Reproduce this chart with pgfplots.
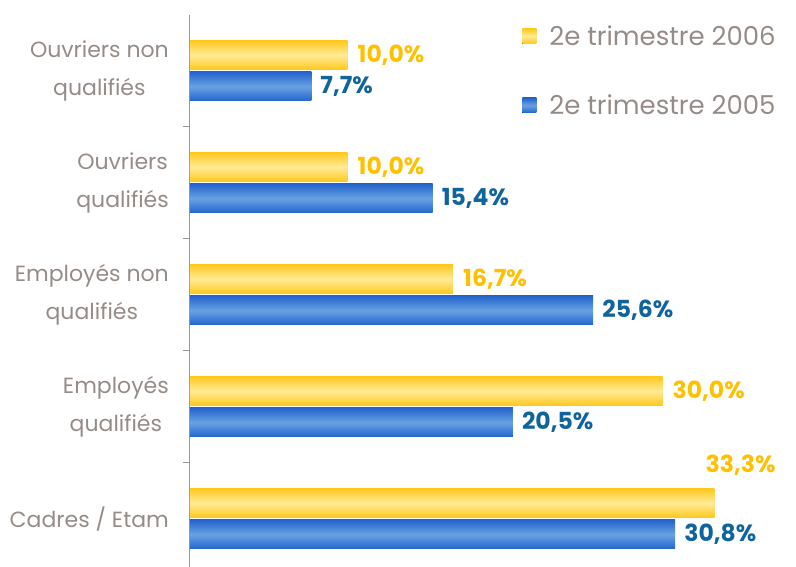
\documentclass[border=0pt]{standalone}
\usepackage{pgfplots}
\pgfplotsset{compat=1.18}
\usepackage{fontspec}
\setmainfont{Poppins}
\definecolor{yedge}{RGB}{255,200,30}
\definecolor{ymid}{RGB}{255,235,150}
\definecolor{bedge}{RGB}{35,100,205}
\definecolor{bmid}{RGB}{105,162,226}
\definecolor{txtgray}{RGB}{150,140,135}
\definecolor{axgray}{RGB}{160,150,145}
\definecolor{ylab}{RGB}{255,192,0}
\definecolor{blab}{RGB}{15,100,155}
\pgfplotsset{
  ybars/.style={draw=none, top color=yedge, bottom color=yedge, middle color=ymid, bar shift=16pt,
    legend image code/.code={\fill[top color=yedge, bottom color=yedge, middle color=ymid] (0pt,-7.5pt) rectangle (14pt,7.5pt);},
    nodes near coords style={anchor=west, inner sep=0pt, xshift=10pt, text=ylab, font=\fontsize{23.5}{23.5}\selectfont\bfseries}},
  bbars/.style={draw=none, top color=bedge, bottom color=bedge, middle color=bmid, bar shift=-15.5pt,
    legend image code/.code={\fill[top color=bedge, bottom color=bedge, middle color=bmid] (0pt,-7.5pt) rectangle (14pt,7.5pt);},
    nodes near coords style={anchor=west, inner sep=0pt, xshift=9pt, text=blab, font=\fontsize{23.5}{23.5}\selectfont\bfseries}},
}
\begin{document}
\begin{tikzpicture}
\path[use as bounding box] (0,0) rectangle (796pt,567pt);
\begin{axis}[
  at={(190pt,0pt)}, anchor=south west,
  scale only axis, width=598.5pt, height=552pt,
  xmin=0, xmax=38, ymin=-0.429, ymax=4.5,
  axis x line=none, axis y line*=left,
  y axis line style={color=axgray, line width=1pt, -},
  xbar, bar width=29pt,
  ytick={0,1,2,3,4},
  yticklabels={Cadres / Etam, {Employés\\qualifiés}, {Employés non\\qualifiés}, {Ouvriers\\qualifiés}, {Ouvriers non\\qualifiés}},
  major tick length=0pt,
  minor ytick={0.5,1.5,2.5,3.5},
  minor tick length=7pt, tick align=outside,
  minor tick style={color=axgray, line width=1pt},
  yticklabel style={align=center, text=txtgray, font=\fontsize{22}{38}\selectfont, inner sep=0pt, xshift=-21pt},
  clip=false,
  point meta=x,
  nodes near coords={\pgfmathprintnumber[fixed,fixed zerofill,precision=1,use comma,assume math mode=true]{\pgfplotspointmeta}\%},
  legend style={draw=none, fill=none, at={(axis description cs:0.555,0.985)}, anchor=north west,
    font=\fontsize{26}{31}\selectfont, text=txtgray, row sep=44pt, inner sep=0pt,
    /tikz/every odd column/.append style={column sep=11pt}},
  legend cell align=left,
]
% 2e trimestre 2006
\addplot[ybars] coordinates {(10.0,4)};
\addlegendentry{2e trimestre 2006}
\addplot[ybars, forget plot] coordinates {(10.0,3)};
\addplot[ybars, forget plot] coordinates {(16.7,2)};
\addplot[ybars, forget plot] coordinates {(30.0,1)};
\addplot[ybars, forget plot, nodes near coords style={xshift=-19pt, yshift=38pt}] coordinates {(33.3,0)};
% 2e trimestre 2005
\addplot[bbars] coordinates {(7.7,4)};
\addlegendentry{2e trimestre 2005}
\addplot[bbars, forget plot] coordinates {(15.4,3)};
\addplot[bbars, forget plot] coordinates {(25.6,2)};
\addplot[bbars, forget plot] coordinates {(20.5,1)};
\addplot[bbars, forget plot] coordinates {(30.8,0)};
\end{axis}
\end{tikzpicture}
\end{document}
